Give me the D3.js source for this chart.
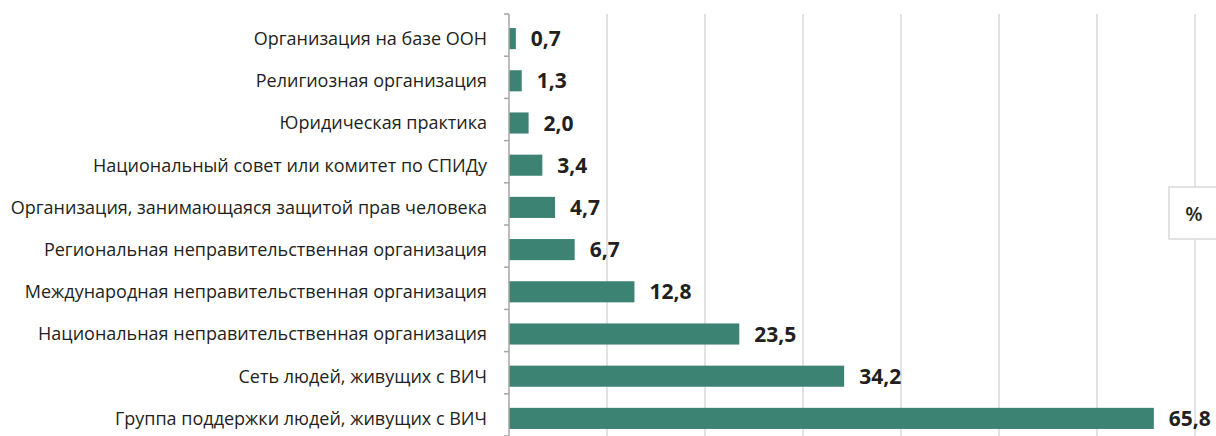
<!DOCTYPE html>
<html><head><meta charset="utf-8">
<script src="https://cdn.jsdelivr.net/npm/d3@7"></script>
<style>body{margin:0;background:#fff}svg{display:block}</style>
</head><body>
<svg id="c" width="1216" height="436"></svg>
<script>
const categories = [
  "Организация на базе ООН",
  "Религиозная организация",
  "Юридическая практика",
  "Национальный совет или комитет по СПИДу",
  "Организация, занимающаяся защитой прав человека",
  "Региональная неправительственная организация",
  "Международная неправительственная организация",
  "Национальная неправительственная организация",
  "Сеть людей, живущих с ВИЧ",
  "Группа поддержки людей, живущих с ВИЧ"
];
const values = [0.7, 1.3, 2.0, 3.4, 4.7, 6.7, 12.8, 23.5, 34.2, 65.8];
const valueLabels = ["0,7","1,3","2,0","3,4","4,7","6,7","12,8","23,5","34,2","65,8"];
const gridTicks = [10, 20, 30, 40, 50, 60, 70];
const unitLabel = "%";

const W = 1216, H = 436;
const svg = d3.select("#c");
const x = d3.scaleLinear().domain([0, 70]).range([509, 1195]);
const y = d3.scaleBand().domain(categories).range([17.5, 439.5]).paddingInner(0.5).paddingOuter(0.25);
// axis band used for the boundary ticks
const yAxis = d3.scaleBand().domain(categories).range([14, 436]);

// gridlines
svg.append("g").selectAll("line").data(gridTicks).join("line")
  .attr("x1", d => x(d)).attr("x2", d => x(d))
  .attr("y1", 14).attr("y2", H)
  .attr("stroke", "#d9d9d9").attr("stroke-width", 1.5);

// bars
svg.append("g").selectAll("rect").data(values).join("rect")
  .attr("x", x(0)).attr("y", (d, i) => y(categories[i]))
  .attr("width", d => x(d) - x(0)).attr("height", y.bandwidth())
  .attr("fill", "#3c8374");

// axis line + ticks at band boundaries
const bounds = categories.map(c => yAxis(c)).concat([436]);
svg.append("line").attr("x1", x(0)).attr("x2", x(0)).attr("y1", 14).attr("y2", H)
  .attr("stroke", "#a6a6a6").attr("stroke-width", 1.5);
svg.append("g").selectAll("line").data(bounds).join("line")
  .attr("x1", x(0) - 5).attr("x2", x(0)).attr("y1", d => d).attr("y2", d => d)
  .attr("stroke", "#a6a6a6").attr("stroke-width", 1.5);

// category labels
svg.append("g").selectAll("text").data(categories).join("text")
  .attr("x", 487).attr("y", d => y(d) + y.bandwidth() / 2)
  .attr("dy", "0.35em").attr("text-anchor", "end")
  .attr("font-family", "'Open Sans', sans-serif").attr("font-size", 18)
  .attr("fill", "#231f20").text(d => d);

// value labels
const vl = svg.append("g").selectAll("text").data(values).join("text")
  .attr("x", d => x(d) + 15).attr("y", (d, i) => y(categories[i]) + y.bandwidth() / 2)
  .attr("dy", "0.36em")
  .attr("font-family", "'Open Sans', sans-serif").attr("font-weight", "bold").attr("font-size", 21)
  .attr("fill", "#231f20").text((d, i) => valueLabels[i]);
vl.each(function () {
  const bb = this.getBBox();
  if (bb.x + bb.width > W - 1) d3.select(this).attr("x", W - 1 - bb.width);
});

// unit box
svg.append("rect").attr("x", 1169).attr("y", 187).attr("width", 60).attr("height", 52)
  .attr("fill", "#fff").attr("stroke", "#d9d9d9").attr("stroke-width", 1.5);
svg.append("text").attr("x", 1194).attr("y", 214).attr("dy", "0.35em").attr("text-anchor", "middle")
  .attr("font-family", "'Open Sans', sans-serif").attr("font-weight", "600").attr("font-size", 20)
  .attr("fill", "#231f20").text(unitLabel);
</script>
</body></html>
